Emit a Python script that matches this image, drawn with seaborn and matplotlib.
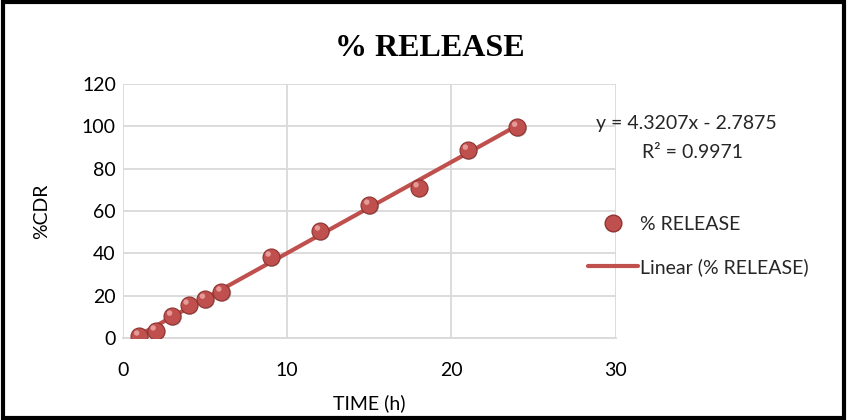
import numpy as np
import pandas as pd
import matplotlib
matplotlib.use("Agg")
import matplotlib.pyplot as plt
import seaborn as sns
from matplotlib.patches import Rectangle
from matplotlib.lines import Line2D
from matplotlib.path import Path

time_h = [1, 2, 3, 4, 5, 6, 9, 12, 15, 18, 21, 24]
pct_release = [1.0, 3.4, 10.4, 15.6, 18.4, 21.8, 38.3, 50.6, 62.8, 71.0, 88.8, 99.6]
x_ticks = [0, 10, 20, 30]
y_ticks = [0, 20, 40, 60, 80, 100, 120]
equation_text = "y = 4.3207x - 2.7875"
r2_text = "R² = 0.9971"

df = pd.DataFrame({"TIME (h)": time_h, "%CDR": pct_release})

sns.set_theme(style="white")
plt.rcParams['font.family'] = ['Lato', 'DejaVu Sans']

red = "#C0504D"


def offset_circle(cx, cy, r):
    c = Path.circle((cx, cy), r)
    verts = np.concatenate([[[1, 1], [-1, -1]], c.vertices])
    codes = np.concatenate([[Path.MOVETO, Path.MOVETO], c.codes])
    return Path(verts, codes)


shadow_marker = offset_circle(0.12, -0.12, 0.95)
highlight_marker = offset_circle(-0.3, 0.35, 0.32)

fig = plt.figure(figsize=(8.47, 4.2), dpi=100)
ax = fig.add_axes([0.145, 0.195, 0.582, 0.605])

sns.regplot(data=df, x="TIME (h)", y="%CDR", ax=ax, scatter=False, ci=None,
            truncate=True, line_kws=dict(color=red, lw=3, zorder=3))
sns.scatterplot(data=df, x="TIME (h)", y="%CDR", ax=ax, s=200, marker=shadow_marker,
                color="#555555", alpha=0.45, edgecolor="none", zorder=4, legend=False)
sns.scatterplot(data=df, x="TIME (h)", y="%CDR", ax=ax, s=150, color=red,
                edgecolor="#8E3331", linewidth=0.8, zorder=5, legend=False)
sns.scatterplot(data=df, x="TIME (h)", y="%CDR", ax=ax, s=150, marker=highlight_marker,
                color="#EBA8A5", alpha=0.85, edgecolor="none", zorder=6, legend=False)

ax.set_xlim(0, 30)
ax.set_ylim(0, 120)
ax.set_xticks(x_ticks)
ax.set_yticks(y_ticks)
ax.grid(True, color="#D9D9D9", lw=1.3)
ax.set_axisbelow(True)
for s in ["top", "right", "left"]:
    ax.spines[s].set_visible(False)
ax.spines["bottom"].set_color("#D9D9D9")
ax.spines["bottom"].set_linewidth(1.3)
ax.tick_params(axis="both", length=0, labelsize=14, colors="black")
ax.tick_params(axis="x", pad=17)
ax.tick_params(axis="y", pad=5)
ax.set_xlabel("TIME (h)", fontsize=14, labelpad=11, color="black")
ax.set_ylabel("%CDR", fontsize=14, labelpad=23, color="black")

fig.text(0.508, 0.885, "% RELEASE", ha="center", va="center",
         fontsize=23, fontweight="bold", family="Liberation Serif", color="black")

fig.text(0.81, 0.705, equation_text, ha="center", va="center", fontsize=14)
fig.text(0.818, 0.638, r2_text, ha="center", va="center", fontsize=14)

handles = [
    Line2D([], [], marker="o", ls="none", markersize=12, markerfacecolor=red,
           markeredgecolor="#8E3331"),
    Line2D([], [], color=red, lw=3),
]
leg = fig.legend(handles, ["% RELEASE", "Linear (% RELEASE)"],
                 loc="center left", bbox_to_anchor=(0.673, 0.415),
                 frameon=False, fontsize=14, labelspacing=1.3,
                 handlelength=2.6, handletextpad=0.1)

fig.patches.append(Rectangle((0.003, 0.004), 0.994, 0.992, transform=fig.transFigure,
                             fill=False, edgecolor="black", lw=3))

fig.savefig("out.png", dpi=100)
